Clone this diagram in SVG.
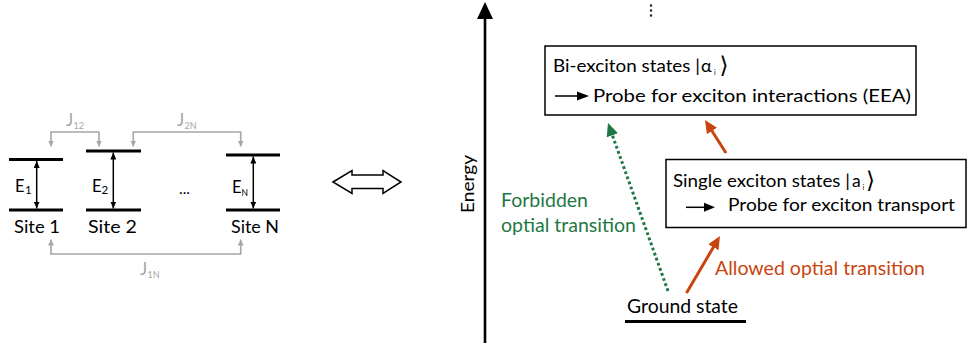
<svg xmlns="http://www.w3.org/2000/svg" width="968" height="351" viewBox="0 0 968 351">
  <defs>
    <style>
      text { font-family: Lato, "Open Sans", "Liberation Sans", sans-serif; fill: #000; }
      .ket { font-family: "DejaVu Sans", sans-serif; }
      .lvl { stroke: #000; stroke-width: 3; }
      .gap { stroke: #000; stroke-width: 1.5; fill: none; marker-start: url(#hd-black); marker-end: url(#hd-black); }
      .cpl { stroke: #a6a6a6; stroke-width: 1.6; fill: none; }
      .cpl-t { fill: #a6a6a6; }
      .box { fill: #fff; stroke: #000; stroke-width: 1.5; }
      .orange { fill: #c9450f; }
      .green { fill: #1e7845; }
      .allowed { stroke: #c9450f; stroke-width: 3; fill: none; marker-end: url(#hd-orange); }
      .forbidden { stroke: #1e7845; stroke-width: 3; fill: none; stroke-dasharray: 2.8 2.6; marker-end: url(#hd-green); }
    </style>
    <marker id="hd-black" viewBox="0 0 7 6" refX="7" refY="3" markerUnits="userSpaceOnUse" markerWidth="7" markerHeight="6" orient="auto-start-reverse">
      <path d="M0,0 L7,3 L0,6 z" fill="#000"/>
    </marker>
    <marker id="hd-gray" viewBox="0 0 6 6" refX="6" refY="3" markerUnits="userSpaceOnUse" markerWidth="6" markerHeight="6" orient="auto-start-reverse">
      <path d="M0,0 L6,3 L0,6 z" fill="#a6a6a6"/>
    </marker>
    <marker id="hd-orange" viewBox="0 0 13 12" refX="2" refY="6" markerUnits="userSpaceOnUse" markerWidth="13" markerHeight="12" orient="auto">
      <path d="M0,0 L13,6 L0,12 z" fill="#c9450f"/>
    </marker>
    <marker id="hd-green" viewBox="0 0 13 12" refX="2" refY="6" markerUnits="userSpaceOnUse" markerWidth="13" markerHeight="12" orient="auto">
      <path d="M0,0 L13,6 L0,12 z" fill="#1e7845"/>
    </marker>
  </defs>

  <rect width="968" height="351" fill="#fff"/>

  <!-- sites: two-level systems -->
  <g id="site1">
    <line class="lvl" x1="9" y1="159.5" x2="63" y2="159.5"/>
    <line class="lvl" x1="9" y1="210" x2="63" y2="210"/>
    <line class="gap" x1="36.7" y1="161" x2="36.7" y2="208.5"/>
    <text x="15" y="192" font-size="16.5">E</text>
    <text x="25" y="194" font-size="11.5">1</text>
    <text x="14" y="233" font-size="18" textLength="46" lengthAdjust="spacingAndGlyphs">Site 1</text>
  </g>
  <g id="site2">
    <line class="lvl" x1="86" y1="151" x2="141" y2="151"/>
    <line class="lvl" x1="86" y1="210" x2="141" y2="210"/>
    <line class="gap" x1="113.3" y1="152.5" x2="113.3" y2="208.5"/>
    <text x="92" y="192" font-size="16.5">E</text>
    <text x="101.5" y="194" font-size="11.5">2</text>
    <text x="88" y="233" font-size="18" textLength="49" lengthAdjust="spacingAndGlyphs">Site 2</text>
  </g>
  <g id="ellipsis">
    <text x="179" y="194" font-size="16" textLength="11" lengthAdjust="spacingAndGlyphs">...</text>
  </g>
  <g id="siteN">
    <line class="lvl" x1="226" y1="155" x2="280" y2="155"/>
    <line class="lvl" x1="226" y1="210" x2="280" y2="210"/>
    <line class="gap" x1="253.3" y1="156.5" x2="253.3" y2="208.5"/>
    <text x="232" y="192.5" font-size="16.5">E</text>
    <text x="241.5" y="195.5" font-size="8.5">N</text>
    <text x="231" y="233" font-size="18" textLength="48" lengthAdjust="spacingAndGlyphs">Site N</text>
  </g>

  <!-- couplings between sites -->
  <g id="couplings">
    <path class="cpl" d="M51,146.5 V132 H99 V146.5" marker-start="url(#hd-gray)" marker-end="url(#hd-gray)"/>
    <path class="cpl" d="M133.3,146.5 V132 H240.7 V146.5" marker-start="url(#hd-gray)" marker-end="url(#hd-gray)"/>
    <path class="cpl" d="M51,239.5 V254 H240.7 V239.5" marker-start="url(#hd-gray)" marker-end="url(#hd-gray)"/>
    <text class="cpl-t" x="66" y="126" font-size="17">J</text>
    <text class="cpl-t" x="73.5" y="129" font-size="9">12</text>
    <text class="cpl-t" x="177" y="126" font-size="17">J</text>
    <text class="cpl-t" x="184.5" y="129" font-size="9">2N</text>
    <text class="cpl-t" x="140" y="275" font-size="17">J</text>
    <text class="cpl-t" x="147.5" y="278" font-size="9">1N</text>
  </g>

  <!-- equivalence arrow -->
  <g id="equivalence">
    <polygon points="333,182 352,170.5 352,175 383,175 383,170.5 401,182 383,193.5 383,188.5 352,188.5 352,193.5" fill="#fff" stroke="#000" stroke-width="1.5"/>
  </g>

  <!-- energy axis -->
  <g id="energy-axis">
    <line x1="485" y1="343" x2="485" y2="16" stroke="#000" stroke-width="2.6"/>
    <polygon points="485,2 477,19 493,19" fill="#000"/>
    <text transform="translate(474,184) rotate(-90)" text-anchor="middle" font-size="16.5" textLength="58" lengthAdjust="spacingAndGlyphs">Energy</text>
    <text transform="translate(649.5,3) rotate(90)" font-size="16" textLength="15" lengthAdjust="spacingAndGlyphs">...</text>
  </g>

  <!-- bi-exciton manifold -->
  <g id="biexciton">
    <rect class="box" x="545" y="46" width="371" height="69"/>
    <text x="553" y="72" font-size="17.5" textLength="147" lengthAdjust="spacingAndGlyphs">Bi-exciton states |</text>
    <text x="701" y="72" font-size="18">α</text>
    <text x="714" y="75" font-size="7">i</text>
    <text class="ket" x="719.5" y="72.5" font-size="23">⟩</text>
    <line x1="555" y1="96" x2="578" y2="96" stroke="#000" stroke-width="1.5"/>
    <polygon points="577,91.5 589,96 577,100.5" fill="#000"/>
    <text x="593" y="102" font-size="17.5" textLength="318" lengthAdjust="spacingAndGlyphs">Probe for exciton interactions (EEA)</text>
  </g>

  <!-- single-exciton manifold -->
  <g id="single-exciton">
    <rect class="box" x="666" y="159.5" width="300" height="68"/>
    <text x="673" y="187" font-size="17.5" textLength="177" lengthAdjust="spacingAndGlyphs">Single exciton states |</text>
    <text x="852" y="187" font-size="17.5">a</text>
    <text x="862.5" y="190" font-size="7">i</text>
    <text class="ket" x="866" y="187.5" font-size="23">⟩</text>
    <line x1="686" y1="207.3" x2="705" y2="207.3" stroke="#000" stroke-width="1.5"/>
    <polygon points="704,202.8 715,207.3 704,211.8" fill="#000"/>
    <text x="728" y="211" font-size="17.5" textLength="227" lengthAdjust="spacingAndGlyphs">Probe for exciton transport</text>
  </g>

  <!-- ground state -->
  <g id="ground">
    <text x="627" y="313" font-size="19" textLength="111" lengthAdjust="spacingAndGlyphs">Ground state</text>
    <line x1="625" y1="321.5" x2="746" y2="321.5" stroke="#000" stroke-width="3"/>
  </g>

  <!-- optical transitions -->
  <g id="transitions">
    <line class="forbidden" x1="668" y1="291" x2="611.7" y2="133.4"/>
    <line class="allowed" x1="686.5" y1="293" x2="714.4" y2="245.5"/>
    <line class="allowed" x1="726" y1="153" x2="710.9" y2="129.3"/>
    <text class="green" x="501" y="207" font-size="19" textLength="87" lengthAdjust="spacingAndGlyphs">Forbidden</text>
    <text class="green" x="501" y="232" font-size="19" textLength="135" lengthAdjust="spacingAndGlyphs">optial transition</text>
    <text class="orange" x="715" y="275" font-size="19" textLength="210" lengthAdjust="spacingAndGlyphs">Allowed optial transition</text>
  </g>
</svg>
